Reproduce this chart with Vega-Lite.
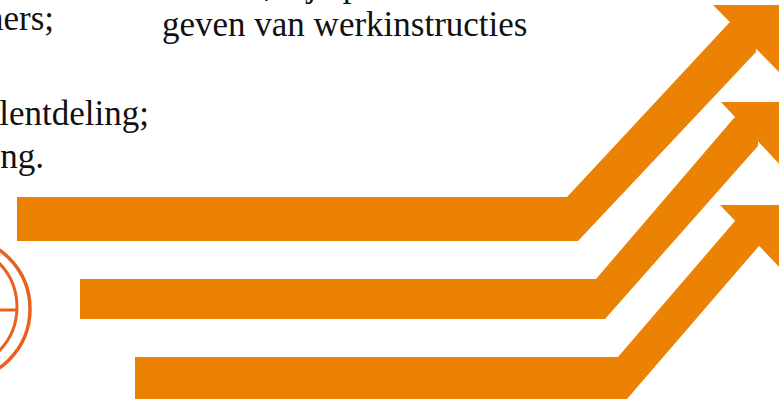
{
  "$schema": "https://vega.github.io/schema/vega-lite/v6.json",
  "width": 779,
  "height": 401,
  "autosize": {"type": "none"},
  "padding": 0,
  "background": "#ffffff",
  "config": {"view": {"stroke": null}},
  "datasets": {
    "shapes": [
      {"part": "a1 shaft", "x": 17, "top": 197, "bottom": 241},
      {"part": "a1 shaft", "x": 567, "top": 197, "bottom": 241},
      {"part": "a1 shaft", "x": 578, "top": 185.2, "bottom": 241},
      {"part": "a1 shaft", "x": 729, "top": 23, "bottom": 80.7},
      {"part": "a1 shaft", "x": 756, "top": 5, "bottom": 52},
      {"part": "a1 head", "x": 713, "top": 5, "bottom": 5},
      {"part": "a1 head", "x": 785, "top": 5, "bottom": 78},
      {"part": "a2 shaft", "x": 80, "top": 279, "bottom": 319},
      {"part": "a2 shaft", "x": 596, "top": 279, "bottom": 319},
      {"part": "a2 shaft", "x": 605, "top": 268.5, "bottom": 319},
      {"part": "a2 shaft", "x": 734, "top": 118, "bottom": 173.1},
      {"part": "a2 shaft", "x": 758, "top": 102, "bottom": 146},
      {"part": "a2 head", "x": 721, "top": 102, "bottom": 102},
      {"part": "a2 head", "x": 785, "top": 102, "bottom": 170},
      {"part": "a3 shaft", "x": 135, "top": 357, "bottom": 399},
      {"part": "a3 shaft", "x": 618, "top": 357, "bottom": 399},
      {"part": "a3 shaft", "x": 627, "top": 346.6, "bottom": 399},
      {"part": "a3 shaft", "x": 735, "top": 221, "bottom": 273.8},
      {"part": "a3 shaft", "x": 759, "top": 205, "bottom": 246},
      {"part": "a3 head", "x": 720, "top": 205, "bottom": 205},
      {"part": "a3 head", "x": 785, "top": 205, "bottom": 273}
    ],
    "rightText": [
      {"label": "ners;", "x": 54, "y": 30},
      {"label": "lentdeling;", "x": 149, "y": 125},
      {"label": "ng.", "x": 44, "y": 168}
    ],
    "leftText": [
      {"label": "geven van werkinstructies", "x": 162, "y": 36},
      {"label": ", zij op", "x": 264, "y": -4}
    ]
  },
  "layer": [
    {
      "data": {"name": "shapes"},
      "mark": {"type": "area", "color": "#EC8204", "opacity": 1, "clip": true, "interpolate": "linear"},
      "encoding": {
        "x": {"field": "x", "type": "quantitative", "scale": {"domain": [0, 779], "nice": false, "zero": false}, "axis": null},
        "y": {"field": "top", "type": "quantitative", "scale": {"domain": [0, 401], "nice": false, "zero": false, "reverse": true}, "axis": null},
        "y2": {"field": "bottom"},
        "detail": {"field": "part", "type": "nominal"}
      }
    },
    {
      "data": {"values": [{"cx": -42, "cy": 309}]},
      "mark": {"type": "point", "shape": "circle", "filled": false, "size": 20736, "stroke": "#E8621F", "strokeWidth": 3.5, "opacity": 1, "clip": true},
      "encoding": {
        "x": {"field": "cx", "type": "quantitative", "scale": {"domain": [0, 779], "nice": false, "zero": false}, "axis": null},
        "y": {"field": "cy", "type": "quantitative", "scale": {"domain": [0, 401], "nice": false, "zero": false, "reverse": true}, "axis": null}
      }
    },
    {
      "data": {"values": [{"cx": -46, "cy": 307}]},
      "mark": {"type": "point", "shape": "circle", "filled": false, "size": 15876, "stroke": "#E8621F", "strokeWidth": 3, "opacity": 1, "clip": true},
      "encoding": {
        "x": {"field": "cx", "type": "quantitative", "scale": {"domain": [0, 779], "nice": false, "zero": false}, "axis": null},
        "y": {"field": "cy", "type": "quantitative", "scale": {"domain": [0, 401], "nice": false, "zero": false, "reverse": true}, "axis": null}
      }
    },
    {
      "data": {"values": [{"x1": 0, "x2": 16, "y": 310}]},
      "mark": {"type": "rule", "stroke": "#E8621F", "strokeWidth": 3, "clip": true},
      "encoding": {
        "x": {"field": "x1", "type": "quantitative", "scale": {"domain": [0, 779], "nice": false, "zero": false}, "axis": null},
        "x2": {"field": "x2"},
        "y": {"field": "y", "type": "quantitative", "scale": {"domain": [0, 401], "nice": false, "zero": false, "reverse": true}, "axis": null}
      }
    },
    {
      "data": {"name": "rightText"},
      "mark": {"type": "text", "align": "right", "baseline": "alphabetic", "font": "Liberation Serif", "fontSize": 35, "color": "#111111", "clip": true},
      "encoding": {
        "x": {"field": "x", "type": "quantitative", "scale": {"domain": [0, 779], "nice": false, "zero": false}, "axis": null},
        "y": {"field": "y", "type": "quantitative", "scale": {"domain": [0, 401], "nice": false, "zero": false, "reverse": true}, "axis": null},
        "text": {"field": "label"}
      }
    },
    {
      "data": {"name": "leftText"},
      "mark": {"type": "text", "align": "left", "baseline": "alphabetic", "font": "Liberation Serif", "fontSize": 35, "color": "#111111", "clip": true},
      "encoding": {
        "x": {"field": "x", "type": "quantitative", "scale": {"domain": [0, 779], "nice": false, "zero": false}, "axis": null},
        "y": {"field": "y", "type": "quantitative", "scale": {"domain": [0, 401], "nice": false, "zero": false, "reverse": true}, "axis": null},
        "text": {"field": "label"}
      }
    }
  ]
}
